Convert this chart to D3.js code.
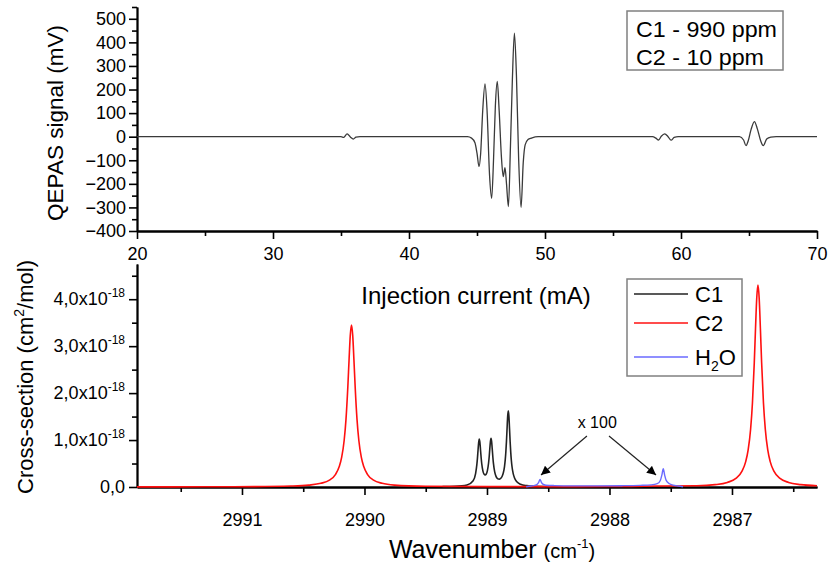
<!DOCTYPE html>
<html><head><meta charset="utf-8">
<script src="https://cdn.jsdelivr.net/npm/d3@7"></script>
<style>
body{margin:0;background:#fff}
svg{display:block;font-family:"Liberation Sans",Arial,sans-serif}
</style></head><body>
<svg width="828" height="564"></svg>
<script>
// top panel: QEPAS signal (mV) against injection current (mA)
const qepasTrace = [
  [20,0],[35.0,0],[35.2,-3],[35.45,12],[35.7,-2],[35.9,-10],[36.1,-2],[36.4,0],
  [44.3,0],[44.6,-6],[44.85,-26],[45.0,-70],[45.15,-127],[45.27,-70],[45.42,110],[45.59,224],[45.74,110],
  [45.92,-160],[46.08,-261],[46.22,-90],[46.35,130],[46.49,234],[46.63,110],[46.8,-90],[46.93,-169],
  [47.06,-131],[47.17,-200],[47.31,-297],[47.46,-40],[47.6,240],[47.75,439],[47.9,260],[48.06,-90],
  [48.24,-300],[48.4,-110],[48.54,-35],[48.75,-12],[49.0,-6],[49.5,0],
  [57.9,0],[58.15,-6],[58.35,-14],[58.55,2],[58.8,12],[59.05,0],[59.27,-15],[59.5,-3],[59.8,0],
  [64.3,0],[64.6,-14],[64.78,-38],[64.95,-16],[65.15,30],[65.4,64],[65.62,32],[65.85,-16],[66.05,-38],
  [66.3,-10],[66.6,-2],[67,0],[70,0]
];
const topYTicks = [-400,-300,-200,-100,0,100,200,300,400,500];
const topXTicks = [20,30,40,50,60,70];
const topLegend = ["C1 - 990 ppm","C2 - 10 ppm"];

// bottom panel: cross-section (x1e-18 cm2/mol) against wavenumber (cm-1)
const c1Cross = [
  [2989.363,0.007],[2989.263,0.014],[2989.163,0.043],[2989.113,0.134],[2989.093,0.287],[2989.083,0.47],
  [2989.078,0.611],[2989.073,0.784],[2989.068,0.946],[2989.063,1.022],[2989.058,0.956],[2989.053,0.80],
  [2989.048,0.634],[2989.043,0.50],[2989.033,0.339],[2989.023,0.269],[2989.015,0.256],[2989.007,0.272],
  [2988.997,0.345],[2988.987,0.511],[2988.982,0.645],[2988.977,0.812],[2988.972,0.969],[2988.967,1.039],
  [2988.962,0.967],[2988.957,0.806],[2988.952,0.635],[2988.947,0.497],[2988.937,0.321],[2988.927,0.231],
  [2988.917,0.188],[2988.907,0.169],[2988.897,0.168],[2988.887,0.186],[2988.877,0.224],[2988.867,0.298],
  [2988.857,0.436],[2988.851,0.577],[2988.846,0.745],[2988.841,0.971],[2988.836,1.248],[2988.831,1.51],
  [2988.826,1.624],[2988.821,1.507],[2988.816,1.243],[2988.811,0.964],[2988.806,0.737],[2988.801,0.565],
  [2988.795,0.421],[2988.786,0.285],[2988.776,0.199],[2988.756,0.111],[2988.726,0.06],[2988.676,0.03],
  [2988.626,0.018],[2988.526,0.009]
];
const c2Cross = [
  [2991.857,0.003],[2991.3,0.004],[2990.9,0.0075],[2990.6,0.02],[2990.456,0.04],[2990.356,0.078],
  [2990.286,0.147],[2990.236,0.27],[2990.206,0.435],[2990.186,0.635],[2990.166,0.99],[2990.151,1.44],
  [2990.136,2.13],[2990.126,2.70],[2990.116,3.23],[2990.106,3.45],[2990.096,3.23],[2990.086,2.70],
  [2990.076,2.13],[2990.061,1.44],[2990.046,0.99],[2990.026,0.635],[2990.006,0.435],[2989.976,0.27],
  [2989.926,0.147],[2989.856,0.078],[2989.756,0.04],[2989.5,0.016],[2989.0,0.008],[2988.5,0.007],
  [2988.0,0.01],[2987.6,0.02],[2987.288,0.027],[2987.138,0.05],[2987.038,0.097],[2986.968,0.184],
  [2986.918,0.34],[2986.888,0.54],[2986.868,0.79],[2986.848,1.23],[2986.833,1.79],[2986.818,2.65],
  [2986.808,3.37],[2986.798,4.02],[2986.788,4.3],[2986.778,4.02],[2986.768,3.37],[2986.758,2.65],
  [2986.743,1.79],[2986.728,1.23],[2986.708,0.79],[2986.688,0.54],[2986.658,0.34],[2986.608,0.184],
  [2986.538,0.097],[2986.438,0.05],[2986.306,0.027]
];
const h2oCross = [
  [2988.68,0.005],[2988.64,0.02],[2988.61,0.035],[2988.59,0.06],[2988.578,0.1],[2988.567,0.16],
  [2988.556,0.1],[2988.544,0.06],[2988.52,0.038],[2988.45,0.03],[2988.3,0.025],[2988.1,0.025],
  [2987.9,0.028],[2987.75,0.035],[2987.66,0.045],[2987.61,0.07],[2987.585,0.14],[2987.572,0.26],
  [2987.561,0.39],[2987.55,0.26],[2987.537,0.14],[2987.51,0.07],[2987.48,0.04],[2987.44,0.02],[2987.4,0.005]
];
const botXTicks = [2991,2990,2989,2988,2987];
const botYTicks = [0,1,2,3,4];
const botLegend = ["C1","C2","H2O"];
const botColors = ["#222222","#ff1010","#6a6aff"];
// "x 100" annotation: label point and two arrows, in data units
const zoomLabel = [2988.1, 1.257];
const zoomArrows = [[[2988.184,1.086],[2988.559,0.256]],[[2988.004,1.086],[2987.62,0.256]]];

const svg = d3.select("svg");
const axisW = 1.8;

// ---------- top panel ----------
const xTop = d3.scaleLinear([20,70],[137,817]);
const yTop = d3.scaleLinear([-400,550],[231,7]);

function styleAxis(g){
  g.select(".domain").attr("stroke","#000").attr("stroke-width",axisW);
  g.selectAll(".tick line").attr("stroke","#000").attr("stroke-width",1.6);
  g.selectAll(".tick text").attr("fill","#000");
}

svg.append("g").attr("transform","translate(0,231)")
  .call(d3.axisBottom(xTop).tickValues(d3.range(25,70,10)).tickSize(5).tickSizeOuter(0).tickFormat(""))
  .call(styleAxis);
svg.append("g").attr("transform","translate(0,231)")
  .call(d3.axisBottom(xTop).tickValues(topXTicks).tickSize(8).tickSizeOuter(0).tickPadding(8))
  .call(styleAxis)
  .selectAll("text").attr("font-size",18).attr("font-family","Liberation Sans");
svg.append("g").attr("transform","translate(137,0)")
  .call(d3.axisLeft(yTop).tickValues(d3.range(-350,551,100)).tickSize(5).tickSizeOuter(0).tickFormat(""))
  .call(styleAxis);
svg.append("g").attr("transform","translate(137,0)")
  .call(d3.axisLeft(yTop).tickValues(topYTicks).tickSize(8).tickSizeOuter(0).tickPadding(3))
  .call(styleAxis)
  .selectAll("text").attr("font-size",18).attr("font-family","Liberation Sans");

svg.append("path").datum(qepasTrace)
  .attr("fill","none").attr("stroke","#3a3a3a").attr("stroke-width",1.3)
  .attr("d", d3.line().x(d=>xTop(d[0])).y(d=>yTop(d[1])).curve(d3.curveMonotoneX));

svg.append("text").attr("transform","translate(63,123) rotate(-90)")
  .attr("text-anchor","middle").attr("font-size",22.5).text("QEPAS signal (mV)");
svg.append("text").attr("x",476).attr("y",304)
  .attr("text-anchor","middle").attr("font-size",24).text("Injection current (mA)");

const lgTop = svg.append("g");
lgTop.append("rect").attr("x",627).attr("y",11).attr("width",156).attr("height",59)
  .attr("fill","#fff").attr("stroke","#808080").attr("stroke-width",1.5);
lgTop.selectAll("text").data(topLegend).join("text")
  .attr("x",636).attr("y",(d,i)=>37+i*28).attr("font-size",22)
  .attr("textLength",(d,i)=>[141,128][i]).attr("lengthAdjust","spacingAndGlyphs").text(d=>d);

// ---------- bottom panel ----------
const xBot = d3.scaleLinear([2991.857,2986.306],[137,817]);
const yBot = d3.scaleLinear([0,4.75],[487,264]);

svg.append("g").attr("transform","translate(0,487)")
  .call(d3.axisBottom(xBot).tickValues(d3.range(2991.5,2986.3,-1)).tickSize(5).tickSizeOuter(0).tickFormat(""))
  .call(styleAxis);
svg.append("g").attr("transform","translate(0,487)")
  .call(d3.axisBottom(xBot).tickValues(botXTicks).tickSize(8).tickSizeOuter(0).tickPadding(18).tickFormat(d3.format("d")))
  .call(styleAxis)
  .selectAll("text").attr("font-size",18);
svg.append("g").attr("transform","translate(137,0)")
  .call(d3.axisLeft(yBot).tickValues(d3.range(0.5,4.6,1)).tickSize(5).tickSizeOuter(0).tickFormat(""))
  .call(styleAxis);
const yAxB = svg.append("g").attr("transform","translate(137,0)")
  .call(d3.axisLeft(yBot).tickValues(botYTicks).tickSize(8).tickSizeOuter(0).tickPadding(4))
  .call(styleAxis);
yAxB.selectAll(".tick text").attr("font-size",18).each(function(d){
  const t = d3.select(this).text(null);
  t.append("tspan").text(d.toFixed(1).replace(".",",") + (d ? "x10" : ""));
  if (d) t.append("tspan").attr("font-size",12).attr("dy",-8).text("-18");
});

const lineB = d3.line().x(d=>xBot(d[0])).y(d=>yBot(d[1])).curve(d3.curveMonotoneX);
svg.append("path").datum(c1Cross).attr("fill","none").attr("stroke",botColors[0]).attr("stroke-width",1.6).attr("d",lineB);
svg.append("path").datum(c2Cross).attr("fill","none").attr("stroke",botColors[1]).attr("stroke-width",1.6).attr("d",lineB);
svg.append("path").datum(h2oCross).attr("fill","none").attr("stroke",botColors[2]).attr("stroke-width",1.4).attr("d",lineB);

// annotation
svg.append("defs").append("marker").attr("id","ah").attr("viewBox","0 0 10 10")
  .attr("refX",10).attr("refY",5).attr("markerWidth",10).attr("markerHeight",9)
  .attr("markerUnits","userSpaceOnUse").attr("orient","auto")
  .append("path").attr("d","M0,0L10,5L0,10z").attr("fill","#000");
svg.append("text").attr("x",xBot(zoomLabel[0])).attr("y",yBot(zoomLabel[1]))
  .attr("text-anchor","middle").attr("font-size",16).text("x 100");
svg.selectAll(".arr").data(zoomArrows).join("line").attr("class","arr")
  .attr("x1",d=>xBot(d[0][0])).attr("y1",d=>yBot(d[0][1]))
  .attr("x2",d=>xBot(d[1][0])).attr("y2",d=>yBot(d[1][1]))
  .attr("stroke","#222").attr("stroke-width",1.2).attr("marker-end","url(#ah)");

// titles
svg.append("text").attr("transform","translate(33,377) rotate(-90)")
  .attr("text-anchor","middle").attr("font-size",22)
  .call(t=>{
    t.append("tspan").text("Cross-section (cm");
    t.append("tspan").attr("font-size",14).attr("dy",-9).text("2");
    t.append("tspan").attr("dy",9).text("/mol)");
  });
svg.append("text").attr("x",492).attr("y",558).attr("text-anchor","middle").attr("font-size",25)
  .call(t=>{
    t.append("tspan").text("Wavenumber ");
    t.append("tspan").attr("font-size",20).text("(cm");
    t.append("tspan").attr("font-size",13).attr("dy",-10).text("-1");
    t.append("tspan").attr("font-size",20).attr("dy",10).text(")");
  });

// bottom legend
const lgBot = svg.append("g");
lgBot.append("rect").attr("x",627).attr("y",279).attr("width",115).attr("height",97)
  .attr("fill","#fff").attr("stroke","#808080").attr("stroke-width",1.5);
const rows = lgBot.selectAll("g").data(botLegend).join("g")
  .attr("transform",(d,i)=>`translate(0,${[294,323,357][i]})`);
rows.append("line").attr("x1",634).attr("x2",688)
  .attr("stroke",(d,i)=>botColors[i]).attr("stroke-width",(d,i)=>i==2?1.4:1.6);
rows.append("text").attr("x",695).attr("y",8).attr("font-size",22)
  .each(function(d){
    const t = d3.select(this);
    if (d === "H2O") {
      t.append("tspan").text("H");
      t.append("tspan").attr("font-size",14).attr("dy",6).text("2");
      t.append("tspan").attr("dy",-6).text("O");
    } else t.text(d);
  });
</script>
</body></html>
